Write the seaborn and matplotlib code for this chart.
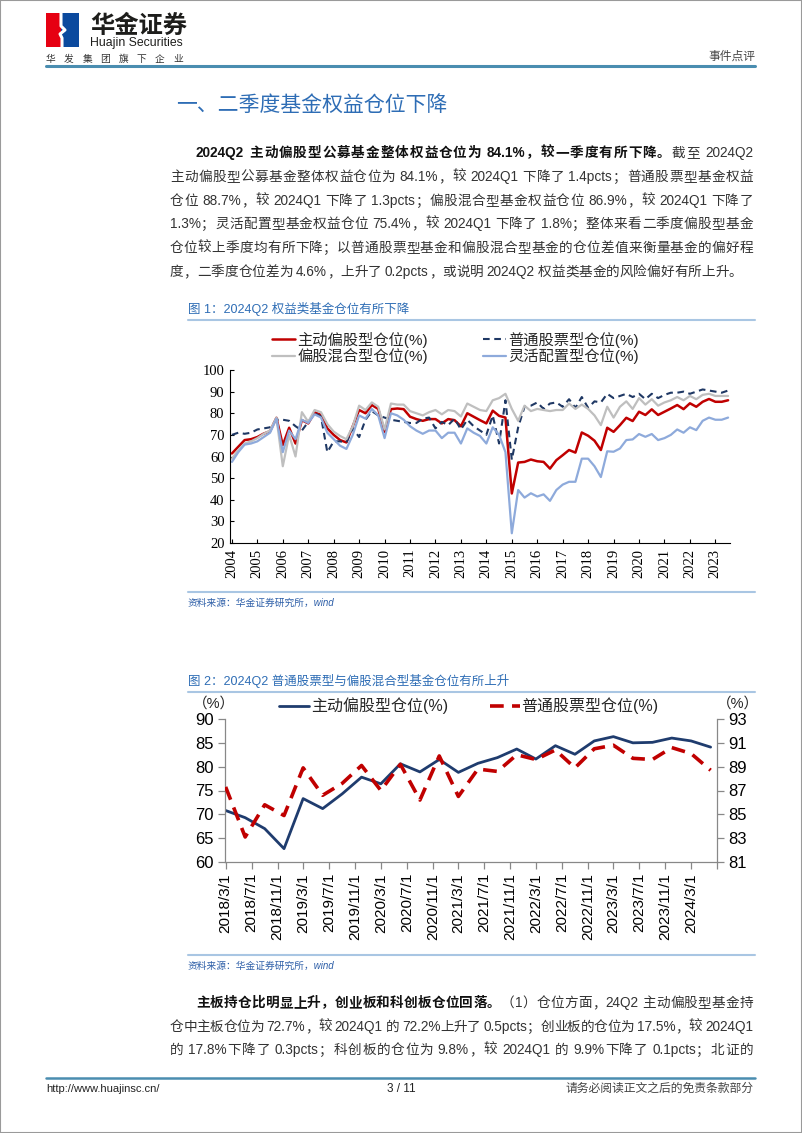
import re
import matplotlib
matplotlib.use('Agg')
import matplotlib.pyplot as plt
import matplotlib.dates as mdates
import seaborn as sns
import numpy as np
import pandas as pd
from matplotlib.lines import Line2D
from matplotlib.patches import Rectangle

# ---------------- data ----------------
# Figure 1: quarterly equity positions, 2004 .. 2023
year_labels1 = [str(y) for y in range(2004, 2024)]
active1 = [61.4, 64.5, 67.6, 68.0, 69.0, 70.6, 71.7, 77.9, 65.3, 73.3,
           66.0, 76.8, 75.3, 80.4, 79.2, 73.0, 70.0, 67.6, 66.5, 74.0,
           81.5, 80.0, 83.8, 82.0, 71.4, 81.9, 82.2, 81.9, 78.4, 77.3,
           76.5, 77.3, 77.3, 75.3, 77.3, 76.8, 74.0, 80.0, 78.4, 76.8,
           75.3, 81.2, 78.8, 78.0, 42.9, 57.2, 57.5, 58.6, 57.8, 57.5,
           54.4, 58.3, 60.6, 63.0, 61.8, 71.1, 69.6, 67.3, 63.0, 73.3,
           71.4, 74.5, 77.9, 76.4, 80.7, 79.2, 81.8, 79.2, 80.7, 82.2,
           83.8, 81.9, 84.6, 83.0, 85.3, 86.6, 85.3, 85.3, 86.0]
stock1 = [70.0, 71.0, 70.5, 71.0, 72.5, 73.0, 73.5, 77.0, 77.0, 76.5,
          74.0, 72.0, 76.0, 80.0, 78.5, 62.0, 67.0, 67.0, 66.5, 73.0,
          69.0, 77.0, 81.0, 79.0, 78.0, 77.0, 76.5, 76.0, 75.5, 75.5,
          77.5, 78.0, 73.0, 76.0, 74.5, 77.5, 72.5, 77.0, 74.0, 72.0,
          70.0, 79.0, 66.0, 86.0, 58.5, 73.5, 83.0, 83.5, 85.0, 82.0,
          84.5, 85.0, 83.0, 86.5, 82.5, 87.5, 82.5, 85.5, 85.0, 89.0,
          87.0, 88.0, 89.0, 87.5, 89.0, 86.5, 89.0, 87.0, 88.5, 89.5,
          89.5, 90.0, 89.0, 90.0, 91.0, 90.5, 90.0, 89.5, 90.5]
mixed1 = [59.0, 63.0, 66.0, 67.0, 68.5, 70.5, 72.0, 78.0, 55.5, 70.0,
          60.0, 80.5, 76.0, 81.5, 80.5, 75.0, 71.5, 69.5, 68.0, 74.0,
          83.5, 81.5, 85.0, 83.0, 72.5, 84.5, 84.0, 84.0, 81.0, 80.0,
          79.0, 80.5, 81.5, 79.5, 81.5, 81.0, 78.5, 84.5, 83.0, 81.5,
          81.0, 86.0, 87.0, 89.0, 82.0, 76.5, 83.5, 81.0, 82.0, 81.5,
          81.0, 81.5, 81.5, 84.5, 82.0, 84.0, 82.0, 79.0, 74.5, 83.0,
          78.0, 83.0, 85.5, 82.0, 87.0, 84.0, 86.5, 83.5, 85.0, 86.0,
          87.5, 86.0, 88.0, 86.5, 88.5, 89.0, 88.0, 88.0, 88.0]
flex1 = [57.5, 62.0, 65.5, 66.0, 67.0, 69.0, 71.0, 77.5, 62.0, 72.0,
         68.0, 77.0, 75.5, 79.5, 78.0, 71.0, 68.0, 65.0, 63.5, 70.0,
         79.0, 77.5, 82.0, 79.0, 68.5, 80.0, 79.0, 77.0, 74.0, 72.0,
         70.5, 72.0, 72.0, 68.5, 71.0, 71.0, 66.0, 73.0, 71.0, 69.5,
         66.0, 73.5, 70.0, 62.0, 24.5, 44.5, 41.0, 43.0, 41.5, 42.5,
         39.5, 44.5, 47.0, 48.3, 48.3, 59.0, 59.0, 55.5, 50.5, 62.4,
         62.2, 63.7, 67.6, 67.9, 70.4, 69.1, 70.4, 67.6, 68.5, 70.0,
         72.5, 71.0, 73.5, 72.2, 76.5, 78.0, 77.0, 77.0, 78.0]
names1 = ['主动偏股型仓位(%)', '普通股票型仓位(%)', '偏股混合型仓位(%)', '灵活配置型仓位(%)']

# Figure 2: quarterly, 2018Q1 .. 2024Q2
active2 = [70.8, 69.3, 67.0, 62.8, 73.3, 71.2, 74.3, 77.8, 76.4, 80.6,
           78.9, 81.5, 78.8, 80.7, 81.9, 83.7, 81.6, 84.4, 82.6, 85.4,
           86.3, 85.0, 85.1, 86.0, 85.4, 84.1]
stock2 = [87.3, 83.1, 85.8, 84.9, 88.9, 86.6, 87.6, 89.1, 87.0, 89.2,
          86.2, 89.9, 86.5, 88.8, 88.6, 90.0, 89.6, 90.4, 88.9, 90.5,
          90.8, 89.7, 89.6, 90.6, 90.1, 88.7]
names2 = ['主动偏股型仓位(%)', '普通股票型仓位(%)']

# ---------------- setup ----------------
sns.set_theme(style='white')
plt.rcParams['font.family'] = ['Liberation Sans', 'Noto Sans CJK SC', 'DejaVu Sans']
plt.rcParams['axes.unicode_minus'] = False
MIX = ['Liberation Sans', 'Noto Sans CJK SC', 'DejaVu Sans']
SERIF = ['Liberation Serif', 'Noto Sans CJK SC']

W, H = 802, 1133
fig = plt.figure(figsize=(W / 100, H / 100), dpi=100)
fig.patch.set_facecolor('white')


def fx(x):
    return x / W


def fy(y):
    return 1 - y / H


def rect(l, t, r, b):
    return [l / W, 1 - b / H, (r - l) / W, (b - t) / H]


def hline(x0, x1, y, color, lw):
    fig.add_artist(Line2D([fx(x0), fx(x1)], [fy(y), fy(y)], color=color, lw=lw,
                          transform=fig.transFigure))


def T(x, y, s, size, color='#222222', ha='left', va='center', weight='normal',
      family=MIX, style='normal'):
    return fig.text(fx(x), fy(y), s, fontsize=size, color=color, ha=ha, va=va,
                    fontweight=weight, family=family, style=style)


CJK = re.compile(r'[\u3000-\u303f\u4e00-\u9fff\uff00-\uffef]')


def tokenize(s):
    toks, buf = [], ''
    for ch in s:
        if ch == ' ':
            if buf:
                toks.append(buf)
                buf = ''
            toks.append(' ')
        elif CJK.match(ch):
            if buf:
                toks.append(buf)
                buf = ''
            toks.append(ch)
        else:
            buf += ch
    if buf:
        toks.append(buf)
    return toks


renderer = fig.canvas.get_renderer()


def draw_line(segments, x0, x1, ybase, size, justify=True, color='#333333',
              bold_color='#111111'):
    items = []
    for text, weight in segments:
        for t in tokenize(text):
            if t == ' ':
                items.append((None, size * 100 / 72 * 0.25))
            else:
                txt = fig.text(0, fy(ybase), t, fontsize=size, fontweight=weight,
                               family=MIX, color=bold_color if weight == 'bold' else color,
                               ha='left', va='baseline')
                items.append((txt, txt.get_window_extent(renderer).width))
    total = sum(w for _, w in items)
    n = len(items)
    extra = (x1 - x0 - total) / (n - 1) if (justify and n > 1) else 0
    x = x0
    for txt, w in items:
        if txt is not None:
            txt.set_x(fx(x))
        x += w + extra


# ---------------- page frame / header ----------------
fig.add_artist(Rectangle((0, 0), 1, 1, transform=fig.transFigure, fill=False,
                         edgecolor='#9a9a9a', lw=1.5))
# logo
fig.add_artist(Rectangle((fx(46), fy(47)), (61 - 46) / W, 34 / H, transform=fig.transFigure,
                         facecolor='#e60012', edgecolor='none'))
fig.add_artist(Rectangle((fx(61), fy(47)), (79 - 61) / W, 34 / H, transform=fig.transFigure,
                         facecolor='#0b4a9e', edgecolor='none'))
fig.add_artist(Line2D([fx(61), fx(61), fx(65), fx(60), fx(62), fx(62)],
                      [fy(13), fy(26), fy(30), fy(34), fy(38), fy(47)],
                      color='white', lw=2.2, transform=fig.transFigure))
T(90, 26, '华金证券', 17.5, color='#1d1d1b', weight='heavy', family=['Noto Sans CJK SC'])
T(90, 43, 'Huajin Securities', 8.8, color='#1d1d1b')
draw_line([('华发集团旗下企业', 'normal')], 46, 183, 62, 7, color='#333333')
T(755, 57, '事件点评', 8.5, color='#444444', ha='right')
hline(46, 755, 66, '#4a8db0', 2.2)

# section title
T(176, 105, '一、二季度基金权益仓位下降', 15, color='#2e6db5')

# paragraph 1
para1 = [
    [("2024Q2 主动偏股型公募基金整体权益仓位为 84.1%，较一季度有所下降。", 'bold'), ("截至 2024Q2", 'normal')],
    [("主动偏股型公募基金整体权益仓位为 84.1%，较 2024Q1 下降了 1.4pcts；普通股票型基金权益", 'normal')],
    [("仓位 88.7%，较 2024Q1 下降了 1.3pcts；偏股混合型基金权益仓位 86.9%，较 2024Q1 下降了", 'normal')],
    [("1.3%；灵活配置型基金权益仓位 75.4%，较 2024Q1 下降了 1.8%；整体来看二季度偏股型基金", 'normal')],
    [("仓位较上季度均有所下降；以普通股票型基金和偏股混合型基金的仓位差值来衡量基金的偏好程", 'normal')],
    [("度，二季度仓位差为 4.6%，上升了 0.2pcts，或说明 2024Q2 权益类基金的风险偏好有所上升。", 'normal')],
]
ys1 = [152, 176, 200, 223, 247, 271]
for i, (segs, yc) in enumerate(zip(para1, ys1)):
    draw_line(segs, 196 if i == 0 else 170, 753, yc + 5, 9.8, justify=(i < len(para1) - 1))

# ---------------- figure 1 ----------------
T(188, 309, '图 1：2024Q2 权益类基金仓位有所下降', 9, color='#2e6db5')
hline(188, 755, 320, '#a9c6e3', 1.5)

ax1 = fig.add_axes(rect(230, 370, 730, 543))
x1 = np.arange(len(active1))
styles1 = [(active1, '#c00000', 1.8, None),
           (stock1, '#1f3864', 1.5, (3.2, 2.2)),
           (mixed1, '#bfbfbf', 1.6, None),
           (flex1, '#8eaadb', 1.6, None)]
for vals, c, lw, d in styles1:
    sns.lineplot(x=x1, y=vals, ax=ax1, color=c, linewidth=lw, errorbar=None)
    if d:
        ax1.lines[-1].set_dashes(d)
ax1.set_xlim(-0.3, 78.3)
ax1.set_ylim(20, 100)
ax1.set_yticks(range(20, 101, 10))
ax1.set_yticklabels([str(v) for v in range(20, 101, 10)], family=SERIF, fontsize=10.5)
ax1.set_xticks(range(0, 4 * len(year_labels1), 4))
ax1.set_xticklabels(year_labels1, rotation=90, family=SERIF, fontsize=10.5)
ax1.set_xlabel('')
ax1.set_ylabel('')
for s in ['top', 'right']:
    ax1.spines[s].set_visible(False)
for s in ['left', 'bottom']:
    ax1.spines[s].set_color('black')
    ax1.spines[s].set_linewidth(0.8)
ax1.tick_params(axis='both', direction='in', length=3, width=0.8, colors='black',
                bottom=True, left=True, pad=4)
ax1.set_facecolor('white')

order1 = [0, 2, 1, 3]
h1 = []
for k in order1:
    h = Line2D([], [], color=styles1[k][1], lw=styles1[k][2])
    if styles1[k][3]:
        h.set_dashes(styles1[k][3])
    h1.append(h)
fig.legend(h1, [names1[k] for k in order1], ncol=2, loc='center left',
           bbox_to_anchor=(fx(272), fy(348)), frameon=False,
           prop={'family': MIX, 'size': 11}, handlelength=1.5, handletextpad=0.15,
           columnspacing=3.6, labelspacing=0.05, borderpad=0, borderaxespad=0)

hline(188, 755, 592, '#a9c6e3', 1.5)
T(188, 603, '资料来源：华金证券研究所，wind', 7, color='#2e5fa8', style='italic')

# ---------------- figure 2 ----------------
T(188, 681, '图 2：2024Q2 普通股票型与偏股混合型基金仓位有所上升', 9, color='#2e6db5')
hline(188, 755, 692, '#a9c6e3', 1.5)

dates2 = pd.date_range('2018-03-01', periods=len(active2), freq='3MS')
ax2 = fig.add_axes(rect(225, 719, 717, 862))
sns.lineplot(x=dates2, y=active2, ax=ax2, color='#1f3c6e', linewidth=2.0, errorbar=None)
ax2r = ax2.twinx()
sns.lineplot(x=dates2, y=stock2, ax=ax2r, color='#c00000', linewidth=2.6, errorbar=None)
ax2r.lines[-1].set_dashes((3.8, 2.3))

tick_dates = pd.date_range('2018-03-01', '2024-07-01', freq='4MS')
tick_labels = [f'{d.year}/{d.month}/{d.day}' for d in tick_dates[:-1]] + ['']
ax2.set_xlim(mdates.date2num(pd.Timestamp('2018-02-26')), mdates.date2num(pd.Timestamp('2024-07-01')))
ax2.set_xticks(mdates.date2num(tick_dates))
ax2.set_xticklabels(tick_labels, rotation=90, fontsize=11, family=MIX)
ax2.set_ylim(60, 90)
ax2.set_yticks(range(60, 91, 5))
ax2.set_yticklabels([str(v) for v in range(60, 91, 5)], fontsize=12, family=MIX)
ax2r.set_ylim(81, 93)
ax2r.set_yticks(range(81, 94, 2))
ax2r.set_yticklabels([str(v) for v in range(81, 94, 2)], fontsize=12, family=MIX)
for a in (ax2, ax2r):
    a.set_xlabel('')
    a.set_ylabel('')
    a.spines['top'].set_visible(False)
    for s in ['left', 'right', 'bottom']:
        a.spines[s].set_color('#888888')
        a.spines[s].set_linewidth(0.9)
ax2.spines['right'].set_visible(False)
ax2r.spines['left'].set_visible(False)
ax2r.spines['bottom'].set_visible(False)
ax2.tick_params(axis='both', direction='out', length=5, width=0.9, color='#888888',
                labelcolor='black', bottom=True, left=True, pad=3)
ax2r.tick_params(axis='y', direction='out', length=5, width=0.9, color='#888888',
                 labelcolor='black', right=True, pad=3)
ax2.set_facecolor('none')

T(214, 704, '（%）', 10.5, color='#222222', ha='center')
T(738, 704, '（%）', 10.5, color='#222222', ha='center')

h2 = [Line2D([], [], color='#1f3c6e', lw=2.0),
      Line2D([], [], color='#c00000', lw=2.6, dashes=(3.8, 2.3))]
fig.legend(h2, names2, ncol=2, loc='center left', bbox_to_anchor=(fx(279), fy(706)),
           frameon=False, prop={'family': MIX, 'size': 11.5}, handlelength=1.9,
           handletextpad=0.1, columnspacing=2.6, borderpad=0, borderaxespad=0)

hline(188, 755, 955, '#a9c6e3', 1.5)
T(188, 966, '资料来源：华金证券研究所，wind', 7, color='#2e5fa8', style='italic')

# paragraph 2
para2 = [
    [("主板持仓比明显上升，创业板和科创板仓位回落。", 'bold'), ("（1）仓位方面，24Q2 主动偏股型基金持", 'normal')],
    [("仓中主板仓位为 72.7%，较 2024Q1 的 72.2%上升了 0.5pcts；创业板的仓位为 17.5%，较 2024Q1", 'normal')],
    [("的 17.8%下降了 0.3pcts；科创板的仓位为 9.8%，较 2024Q1 的 9.9%下降了 0.1pcts；北证的", 'normal')],
]
ys2 = [1002, 1026, 1049]
for i, (segs, yc) in enumerate(zip(para2, ys2)):
    draw_line(segs, 196 if i == 0 else 170, 753, yc + 5, 9.8, justify=True)

# ---------------- footer ----------------
hline(46, 755, 1078, '#4a8db0', 1.8)
T(46, 1089, 'http://www.huajinsc.cn/', 8, color='#222222')
T(401, 1089, '3 / 11', 8.5, color='#222222', ha='center')
T(753, 1089, '请务必阅读正文之后的免责条款部分', 8.5, color='#444444', ha='right')

fig.savefig('out.png', dpi=100, facecolor='white')
